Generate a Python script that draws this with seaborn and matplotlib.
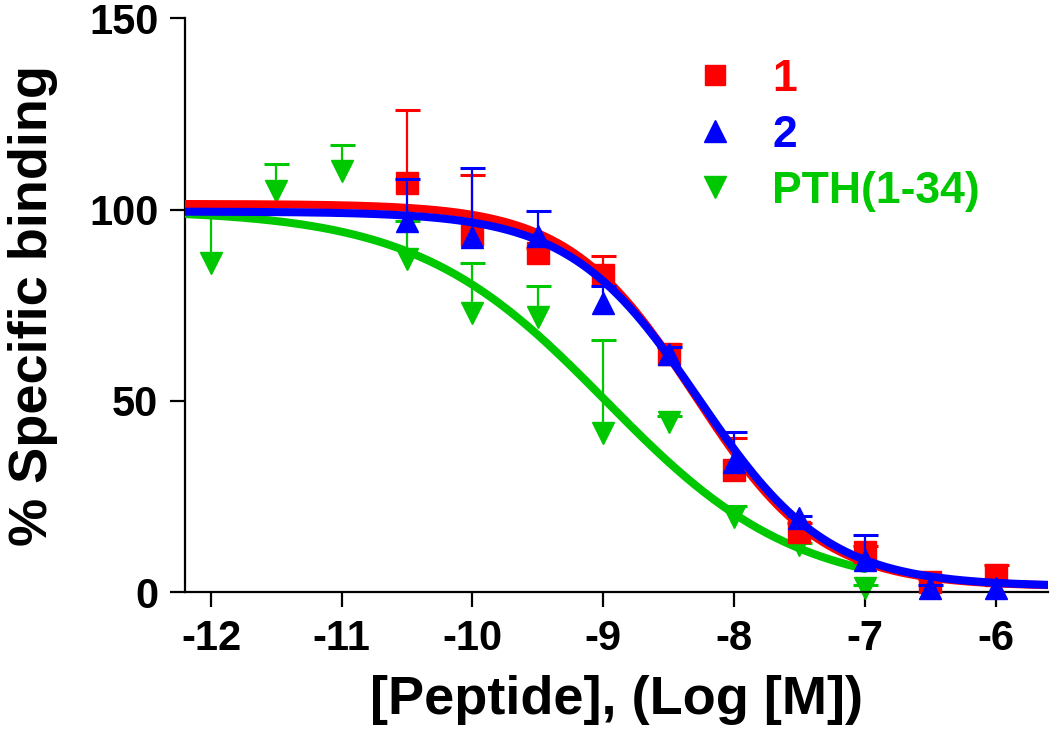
import numpy as np
import pandas as pd
import matplotlib
matplotlib.use("Agg")
import matplotlib.pyplot as plt
from matplotlib.lines import Line2D
import seaborn as sns

# log concentrations
x_pth = [-12, -11.5, -11, -10.5, -10, -9.5, -9, -8.5, -8, -7.5, -7]
x_pep = [-10.5, -10, -9.5, -9, -8.5, -8, -7.5, -7, -6.5, -6]

# % specific binding (mean) and top of the error bar
y_1 = [107, 93.5, 88.6, 83, 62.4, 32, 15.7, 10.5, 2.6, 4.4]
err_1 = [126, 109, 90, 88, 65, 40.2, 18, 12, 3.5, 7]
y_2 = [97, 92.8, 93, 75.5, 62.4, 34, 19.3, 8.5, 1, 1]
err_2 = [108, 111, 99.6, 80, 64, 41.8, 20, 14.9, 2, 3]
y_pth = [86, 105, 110, 87, 73, 72, 41.5, 44.4, 19.6, 12.3, 1]
err_pth = [100.5, 112, 117, 97, 86, 80, 66, 46, 22.5, 13, 2]

# four-parameter logistic fit results: top, bottom, logIC50, hill
fit_1 = (101.5, 1.5, -8.3, 0.9)
fit_2 = (99.5, 1.5, -8.27, 0.88)
fit_pth = (100.0, 0.0, -8.98, 0.6)

red, blue, green = "#ff0000", "#0000ff", "#00c800"

sns.set_style("ticks")
plt.rcParams["font.family"] = ["Liberation Sans", "DejaVu Sans"]
plt.rcParams["font.weight"] = "bold"
plt.rcParams["axes.unicode_minus"] = False
plt.rcParams["text.color"] = "black"
plt.rcParams["axes.labelcolor"] = "black"
plt.rcParams["xtick.color"] = "black"
plt.rcParams["ytick.color"] = "black"


def fit_curve(params, x0, x1):
    top, bottom, logic50, hill = params
    xs = np.linspace(x0, x1, 300)
    ys = bottom + (top - bottom) / (1 + 10 ** ((xs - logic50) * hill))
    return pd.DataFrame({"x": xs, "y": ys})


fig = plt.figure(figsize=(10.5, 7.33), dpi=100)
ax = fig.add_axes([0.176, 0.192, 0.822, 0.783])

series = [
    (x_pth, y_pth, err_pth, fit_pth, green, "v", -7.0, 2),
    (x_pep, y_1, err_1, fit_1, red, "s", -5.6, 4),
    (x_pep, y_2, err_2, fit_2, blue, "^", -5.6, 6),
]
for xs, ys, tops, fit, col, mk, xend, z in series:
    up = np.array(tops) - np.array(ys)
    eb = ax.errorbar(xs, ys, yerr=[np.zeros(len(ys)), up], fmt=mk, color=col,
                     markersize=16, elinewidth=1.6, capsize=9, capthick=2.2,
                     clip_on=False, zorder=z)
    # only the upper caps (one-sided error bars)
    eb[1][0].set_visible(False)
    df = fit_curve(fit, -12.2, xend)
    sns.lineplot(data=df, x="x", y="y", ax=ax, color=col, linewidth=5.8,
                 zorder=z + 1)

ax.set_xlim(-12.2, -5.6)
ax.set_ylim(0, 150)
ax.set_xticks([-12, -11, -10, -9, -8, -7, -6])
ax.set_yticks([0, 50, 100, 150])
ax.tick_params(labelsize=30, width=1.6, length=11, pad=8, color="black",
               labelcolor="black")
for lab in ax.get_xticklabels() + ax.get_yticklabels():
    lab.set_fontweight("bold")
sns.despine(ax=ax)
for s in ["left", "bottom"]:
    ax.spines[s].set_linewidth(1.6)
    ax.spines[s].set_color("black")

ax.set_xlabel("[Peptide], (Log [M])", fontsize=39, fontweight="bold",
              labelpad=12, color="black")
ax.set_ylabel("% Specific binding", fontsize=39, fontweight="bold",
              labelpad=22, color="black")

handles = [
    Line2D([], [], marker="s", color=red, linestyle="none", markersize=15),
    Line2D([], [], marker="^", color=blue, linestyle="none", markersize=16),
    Line2D([], [], marker="v", color=green, linestyle="none", markersize=16),
]
leg = ax.legend(handles, ["1", "2", "PTH(1-34)"], loc="upper left",
                bbox_to_anchor=(0.588, 0.93), frameon=False,
                prop={"size": 32, "weight": "bold"}, handlelength=1.0,
                handletextpad=0.8, labelspacing=0.34, borderpad=0,
                borderaxespad=0)
for txt, col in zip(leg.get_texts(), [red, blue, green]):
    txt.set_color(col)

fig.savefig("out.png", dpi=100)
